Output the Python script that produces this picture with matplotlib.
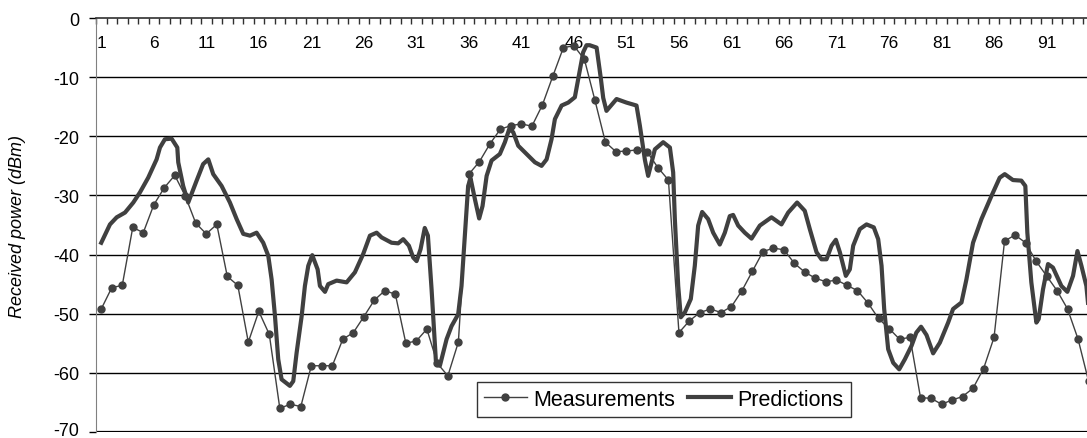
import matplotlib
matplotlib.use('agg')
import matplotlib.pyplot as plt
from matplotlib.ticker import FixedLocator
from matplotlib.transforms import ScaledTranslation

plt.rcParams['font.family'] = ['Liberation Sans', 'DejaVu Sans']

# Measured received power, one value per location (1..95)
meas_db = [-49.2, -45.6, -45.2, -35.4, -36.3, -31.6, -28.7, -26.6, -30.1, -34.7,
           -36.5, -34.9, -43.7, -45.2, -54.8, -49.6, -53.5, -66.0, -65.3, -65.7,
           -58.8, -58.8, -58.8, -54.3, -53.2, -50.5, -47.7, -46.1, -46.7, -55.0,
           -54.6, -52.6, -58.4, -60.5, -54.8, -26.4, -24.3, -21.3, -18.8, -18.2,
           -17.9, -18.3, -14.7, -9.8, -5.0, -4.7, -7.0, -13.9, -21.0, -22.6,
           -22.5, -22.3, -22.7, -25.3, -27.4, -53.2, -51.2, -49.8, -49.2, -49.8,
           -48.8, -46.1, -42.8, -39.5, -38.9, -39.2, -41.5, -43.0, -44.0, -44.6,
           -44.3, -45.2, -46.1, -48.2, -50.8, -52.5, -54.3, -54.0, -64.2, -64.3,
           -65.3, -64.6, -64.0, -62.6, -59.3, -54.0, -37.7, -36.7, -38.0, -41.1,
           -43.6, -46.1, -49.2, -54.3, -61.4]
meas_pos = list(range(1, len(meas_db) + 1))

# Predicted received power, finer sampling along the route
pred_pos = [1.0, 1.83, 2.47, 3.26, 4.05, 4.68, 5.47, 6.27, 6.59, 7.06,
            7.7, 8.24, 8.33, 8.8, 9.28, 10.08, 10.7, 11.19, 11.66, 12.46,
            13.25, 13.89, 14.52, 15.16, 15.79, 16.42, 16.9, 17.22, 17.54, 17.85,
            18.17, 18.96, 19.28, 19.6, 20.08, 20.39, 20.71, 21.09, 21.6, 21.82,
            22.3, 22.61, 23.41, 24.36, 25.15, 25.94, 26.58, 27.22, 27.69, 28.64,
            29.27, 29.75, 30.29, 30.7, 31.02, 31.4, 31.8, 32.1, 32.45, 32.86,
            33.24, 33.88, 34.35, 34.98, 35.3, 35.62, 35.93, 36.16, 36.57, 36.98,
            37.3, 37.69, 38.16, 38.95, 39.43, 39.84, 40.22, 40.7, 41.49, 42.29,
            42.92, 43.4, 43.87, 44.19, 44.83, 45.46, 46.09, 46.41, 46.88, 47.2,
            47.5, 48.16, 48.57, 48.79, 49.1, 50.06, 51.0, 51.96, 52.28, 52.76,
            53.07, 53.71, 54.5, 55.14, 55.45, 55.61, 55.93, 56.18, 56.56, 57.13,
            57.51, 57.83, 58.21, 58.78, 59.26, 59.89, 60.37, 60.84, 61.16, 61.64,
            62.27, 62.91, 63.7, 64.81, 65.76, 66.4, 67.25, 67.98, 68.46, 69.1,
            69.57, 70.05, 70.53, 70.94, 71.32, 71.89, 72.27, 72.59, 73.22, 73.86,
            74.55, 74.97, 75.29, 75.54, 75.92, 76.4, 76.97, 77.51, 78.15, 78.6,
            79.05, 79.57, 80.2, 80.84, 81.63, 82.1, 82.9, 83.37, 84.0, 84.8,
            85.75, 86.54, 87.02, 87.8, 88.6, 88.98, 89.17, 89.55, 90.03, 90.25,
            90.66, 91.14, 91.61, 92.41, 92.98, 93.52, 93.94, 94.32, 94.79, 95.1]
pred_db = [-38.0, -34.9, -33.7, -32.9, -31.2, -29.5, -27.0, -23.9, -21.9, -20.5,
           -20.4, -21.9, -24.4, -28.4, -31.2, -27.5, -24.7, -23.9, -26.4, -28.4,
           -31.2, -34.0, -36.5, -36.8, -36.3, -38.0, -40.2, -44.2, -50.4, -57.7,
           -61.1, -62.2, -61.4, -56.6, -50.4, -45.3, -41.9, -40.1, -42.5, -45.3,
           -46.3, -45.0, -44.4, -44.7, -43.0, -39.9, -36.8, -36.3, -37.1, -38.0,
           -38.1, -37.4, -38.5, -40.5, -41.1, -39.1, -35.5, -36.8, -45.9, -58.0,
           -58.8, -54.3, -52.1, -50.1, -45.3, -36.8, -28.4, -27.1, -30.6, -33.9,
           -31.8, -26.7, -24.1, -23.0, -21.0, -18.8, -19.3, -21.6, -23.0, -24.4,
           -25.0, -23.9, -20.5, -17.1, -14.8, -14.3, -13.4, -10.3, -5.8, -4.6,
           -4.6, -5.0, -10.3, -13.5, -15.7, -13.7, -14.3, -14.8, -18.2, -24.0,
           -26.7, -22.2, -21.0, -21.9, -26.1, -34.0, -45.3, -50.6, -49.8, -47.5,
           -41.9, -35.1, -32.8, -34.0, -36.3, -38.3, -36.3, -33.5, -33.3, -35.1,
           -36.3, -37.3, -35.1, -33.7, -34.9, -32.9, -31.2, -32.6, -35.7, -39.6,
           -40.8, -40.8, -38.5, -37.5, -39.6, -43.6, -42.5, -38.5, -35.7, -34.9,
           -35.4, -37.4, -41.9, -49.2, -56.0, -58.3, -59.4, -57.7, -55.4, -53.2,
           -52.2, -53.6, -56.7, -54.9, -51.5, -49.2, -48.1, -44.2, -38.0, -34.0,
           -30.1, -27.0, -26.4, -27.4, -27.5, -28.4, -36.3, -44.7, -51.5, -50.9,
           -45.9, -41.6, -42.2, -45.3, -46.3, -43.6, -39.4, -41.9, -45.3, -51.0]

label_pos = list(range(1, 97, 5))
y_ticks = [0, -10, -20, -30, -40, -50, -60, -70]

line_col = '#404040'

fig = plt.figure(figsize=(10.87, 4.39), dpi=100)
ax = fig.add_axes([96 / 1087, 1 - 433 / 439, 1 - 96 / 1087, 414 / 439])

# horizontal grid
for v in y_ticks[1:]:
    ax.axhline(v, color='black', lw=1.0 if v > -70 else 1.6, zorder=1)

ax.plot(meas_pos, meas_db, color=line_col, lw=1.0, marker='o', ms=5,
        label='Measurements', zorder=3)
ax.plot(pred_pos, pred_db, color=line_col, lw=3.0, solid_joinstyle='round',
        label='Predictions', zorder=4)

ax.set_xlim(0.5, 94.85)
ax.set_ylim(-70, 0)

ax.spines['right'].set_visible(False)
ax.spines['bottom'].set_visible(False)
ax.spines['left'].set_color('#808080')
ax.spines['top'].set_color('#303030')
ax.spines['top'].set_linewidth(1.2)

ax.set_yticks(y_ticks)
ax.set_yticklabels([str(v) for v in y_ticks], fontsize=13)
ax.tick_params(axis='y', direction='out', length=5, width=1, color='black', pad=7)
# lowest label sits on the figure edge; nudge it up a little
low = ax.get_yticklabels()[-1]
low.set_transform(low.get_transform() + ScaledTranslation(0, 3 / 100, fig.dpi_scale_trans))

ax.xaxis.tick_top()
ax.xaxis.set_major_locator(FixedLocator(label_pos))
ax.set_xticklabels([str(v) for v in label_pos], fontsize=12.5)
ax.xaxis.set_minor_locator(FixedLocator([p + 0.5 for p in range(0, 100)]))
ax.tick_params(axis='x', which='major', length=0, pad=-18)
ax.tick_params(axis='x', which='minor', direction='in', length=4, width=1, color='#303030')
for t in ax.get_xticklabels():
    t.set_verticalalignment('center')

ax.set_ylabel('Received power (dBm)', fontsize=13, style='italic')
ax.yaxis.set_label_coords(-70 / 991, 0.5)

leg = ax.legend(loc='upper left', bbox_to_anchor=(0.3845, 0.121), ncol=2,
                fontsize=15.5, frameon=True, fancybox=False, borderpad=0.32,
                handlelength=2.0, handletextpad=0.3, columnspacing=0.6,
                borderaxespad=0)
leg.get_frame().set_edgecolor('black')
leg.get_frame().set_linewidth(1.0)

plt.savefig('out.png', dpi=100)
plt.close()
